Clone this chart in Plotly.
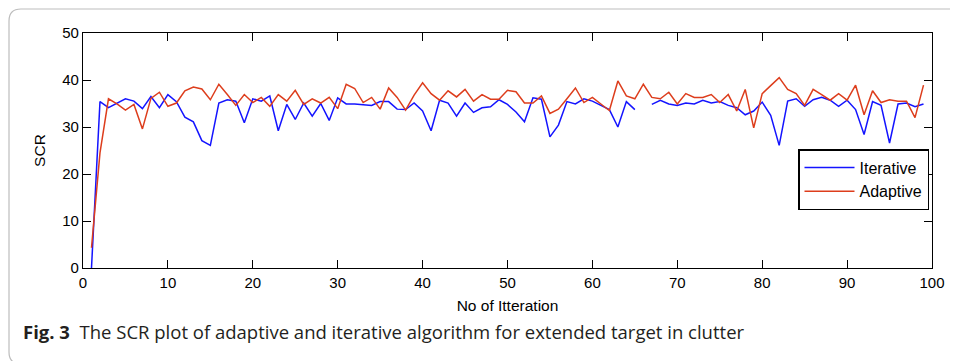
import plotly.graph_objects as go

iterations = list(range(1, 100))

iterative = [
    0.0, 35.4, 34.1, 35.1, 36.0, 35.5, 33.9, 36.5, 34.1, 36.9,
    35.4, 32.1, 31.1, 27.1, 26.1, 35.1, 35.8, 35.5, 30.9, 36.0,
    35.5, 36.6, 29.2, 34.8, 31.6, 35.1, 32.3, 35.0, 31.4, 36.2,
    34.9, 34.9, 34.8, 34.6, 35.4, 35.4, 33.8, 33.7, 35.1, 33.4,
    29.2, 35.7, 35.1, 32.3, 35.1, 33.1, 34.1, 34.3, 35.8, 34.8,
    33.2, 31.1, 36.2, 35.9, 27.9, 30.4, 35.4, 34.9, 36.0, 35.5,
    34.6, 33.7, 30.0, 35.4, 33.7, None, 34.8, 35.7, 34.9, 34.6,
    35.1, 34.9, 35.7, 35.1, 35.4, 34.6, 34.1, 32.6, 33.4, 35.3,
    32.5, 26.1, 35.5, 36.0, 34.4, 35.8, 36.3, 35.7, 34.4, 35.7,
    33.7, 28.4, 35.4, 34.6, 26.6, 34.9, 35.1, 34.3, 34.9,
]

adaptive = [
    4.3, 24.5, 36.0, 34.9, 33.6, 34.8, 29.6, 36.1, 37.4, 34.4,
    35.1, 37.7, 38.5, 38.1, 35.8, 39.1, 36.9, 34.6, 36.9, 35.2,
    36.3, 34.4, 36.9, 35.5, 37.8, 34.8, 36.0, 35.1, 36.3, 33.9,
    39.1, 38.2, 35.2, 36.3, 33.8, 38.3, 36.3, 33.6, 36.8, 39.4,
    37.1, 35.7, 37.7, 36.4, 38.0, 35.5, 36.9, 35.9, 35.9, 37.8,
    37.5, 35.1, 35.1, 36.6, 32.9, 33.8, 36.0, 38.3, 35.2, 36.3,
    34.9, 33.5, 39.8, 36.6, 36.0, 39.1, 36.3, 36.0, 37.4, 34.9,
    37.1, 36.3, 36.3, 36.9, 35.2, 36.9, 33.4, 38.0, 29.8, 37.1,
    38.8, 40.5, 38.0, 37.1, 34.6, 38.0, 36.9, 35.7, 37.1, 35.7,
    38.9, 32.6, 37.7, 35.2, 35.8, 35.5, 35.5, 32.0, 38.9,
]

series_names = ["Iterative", "Adaptive"]
x_ticks = [0, 10, 20, 30, 40, 50, 60, 70, 80, 90, 100]
y_ticks = [0, 10, 20, 30, 40, 50]
x_title = "No of Itteration"
y_title = "SCR"
caption_bold = "Fig. 3"
caption_text = "The SCR plot of adaptive and iterative algorithm for extended target in clutter"

fig = go.Figure()
fig.add_trace(go.Scatter(x=iterations, y=iterative, mode="lines", name=series_names[0],
                         line=dict(color="#1414ff", width=1.5), connectgaps=False))
fig.add_trace(go.Scatter(x=iterations, y=adaptive, mode="lines", name=series_names[1],
                         line=dict(color="#dd3d1c", width=1.5)))

# page has an 8px body margin; work in page coordinates and convert
OFF = 8
W, H = 958 - OFF, 361 - OFF
L, T = 83 - OFF, 33 - OFF
R = W - (932 - OFF)
B = H - (268 - OFF)
pw, ph = W - L - R, H - T - B

def px(xp):
    return (xp - OFF - L) / pw

def py(yp):
    return (H - B - (yp - OFF)) / ph

font_tick = dict(family="Liberation Sans, Arial, sans-serif", size=15, color="black")
font_title = dict(family="Liberation Sans, Arial, sans-serif", size=15.5, color="black")
axis_common = dict(showline=True, linecolor="black", linewidth=1.2, mirror="ticks",
                   ticks="inside", ticklen=8, tickcolor="black", tickwidth=1.2,
                   showgrid=False, zeroline=False, tickfont=font_tick)

fig.update_xaxes(range=[0, 100], tickvals=x_ticks, ticktext=[str(v) for v in x_ticks],
                 ticklabelstandoff=1,
                 title=dict(text=x_title, font=font_title, standoff=10), **axis_common)
fig.update_yaxes(range=[0, 50], tickvals=y_ticks, ticktext=[str(v) for v in y_ticks],
                 title=dict(text=y_title, font=font_title, standoff=12), **axis_common)

r = 12
x0, y0, y1 = px(9), py(9), py(364)
rx, ry = r / pw, r / ph
path = (f"M {px(975)},{y0} L {x0 + rx},{y0} Q {x0},{y0} {x0},{y0 - ry} "
        f"L {x0},{y1 + ry} Q {x0},{y1} {x0 + rx},{y1} L {px(975)},{y1}")

fig.update_layout(
    width=W, height=H,
    margin=dict(l=L, r=R, t=T, b=B, autoexpand=False),
    paper_bgcolor="white", plot_bgcolor="white",
    showlegend=True,
    legend=dict(x=px(929), y=py(149), xanchor="right", yanchor="top",
                bordercolor="black", borderwidth=1.5, bgcolor="white",
                font=dict(family="Liberation Sans, Arial, sans-serif", size=16, color="black"),
                itemwidth=50, tracegroupgap=2),
    shapes=[dict(type="path", xref="paper", yref="paper", path=path,
                 line=dict(color="#bdbdbd", width=1.2), layer="below")],
    annotations=[dict(xref="paper", yref="paper", x=px(21), y=py(331), xanchor="left", yanchor="middle",
                      showarrow=False, align="left",
                      text=f"<b>{caption_bold}</b>  {caption_text}",
                      font=dict(family="Open Sans, Noto Sans, sans-serif", size=18.5, color="#231f20"))],
)

fig.write_html("out.html")
